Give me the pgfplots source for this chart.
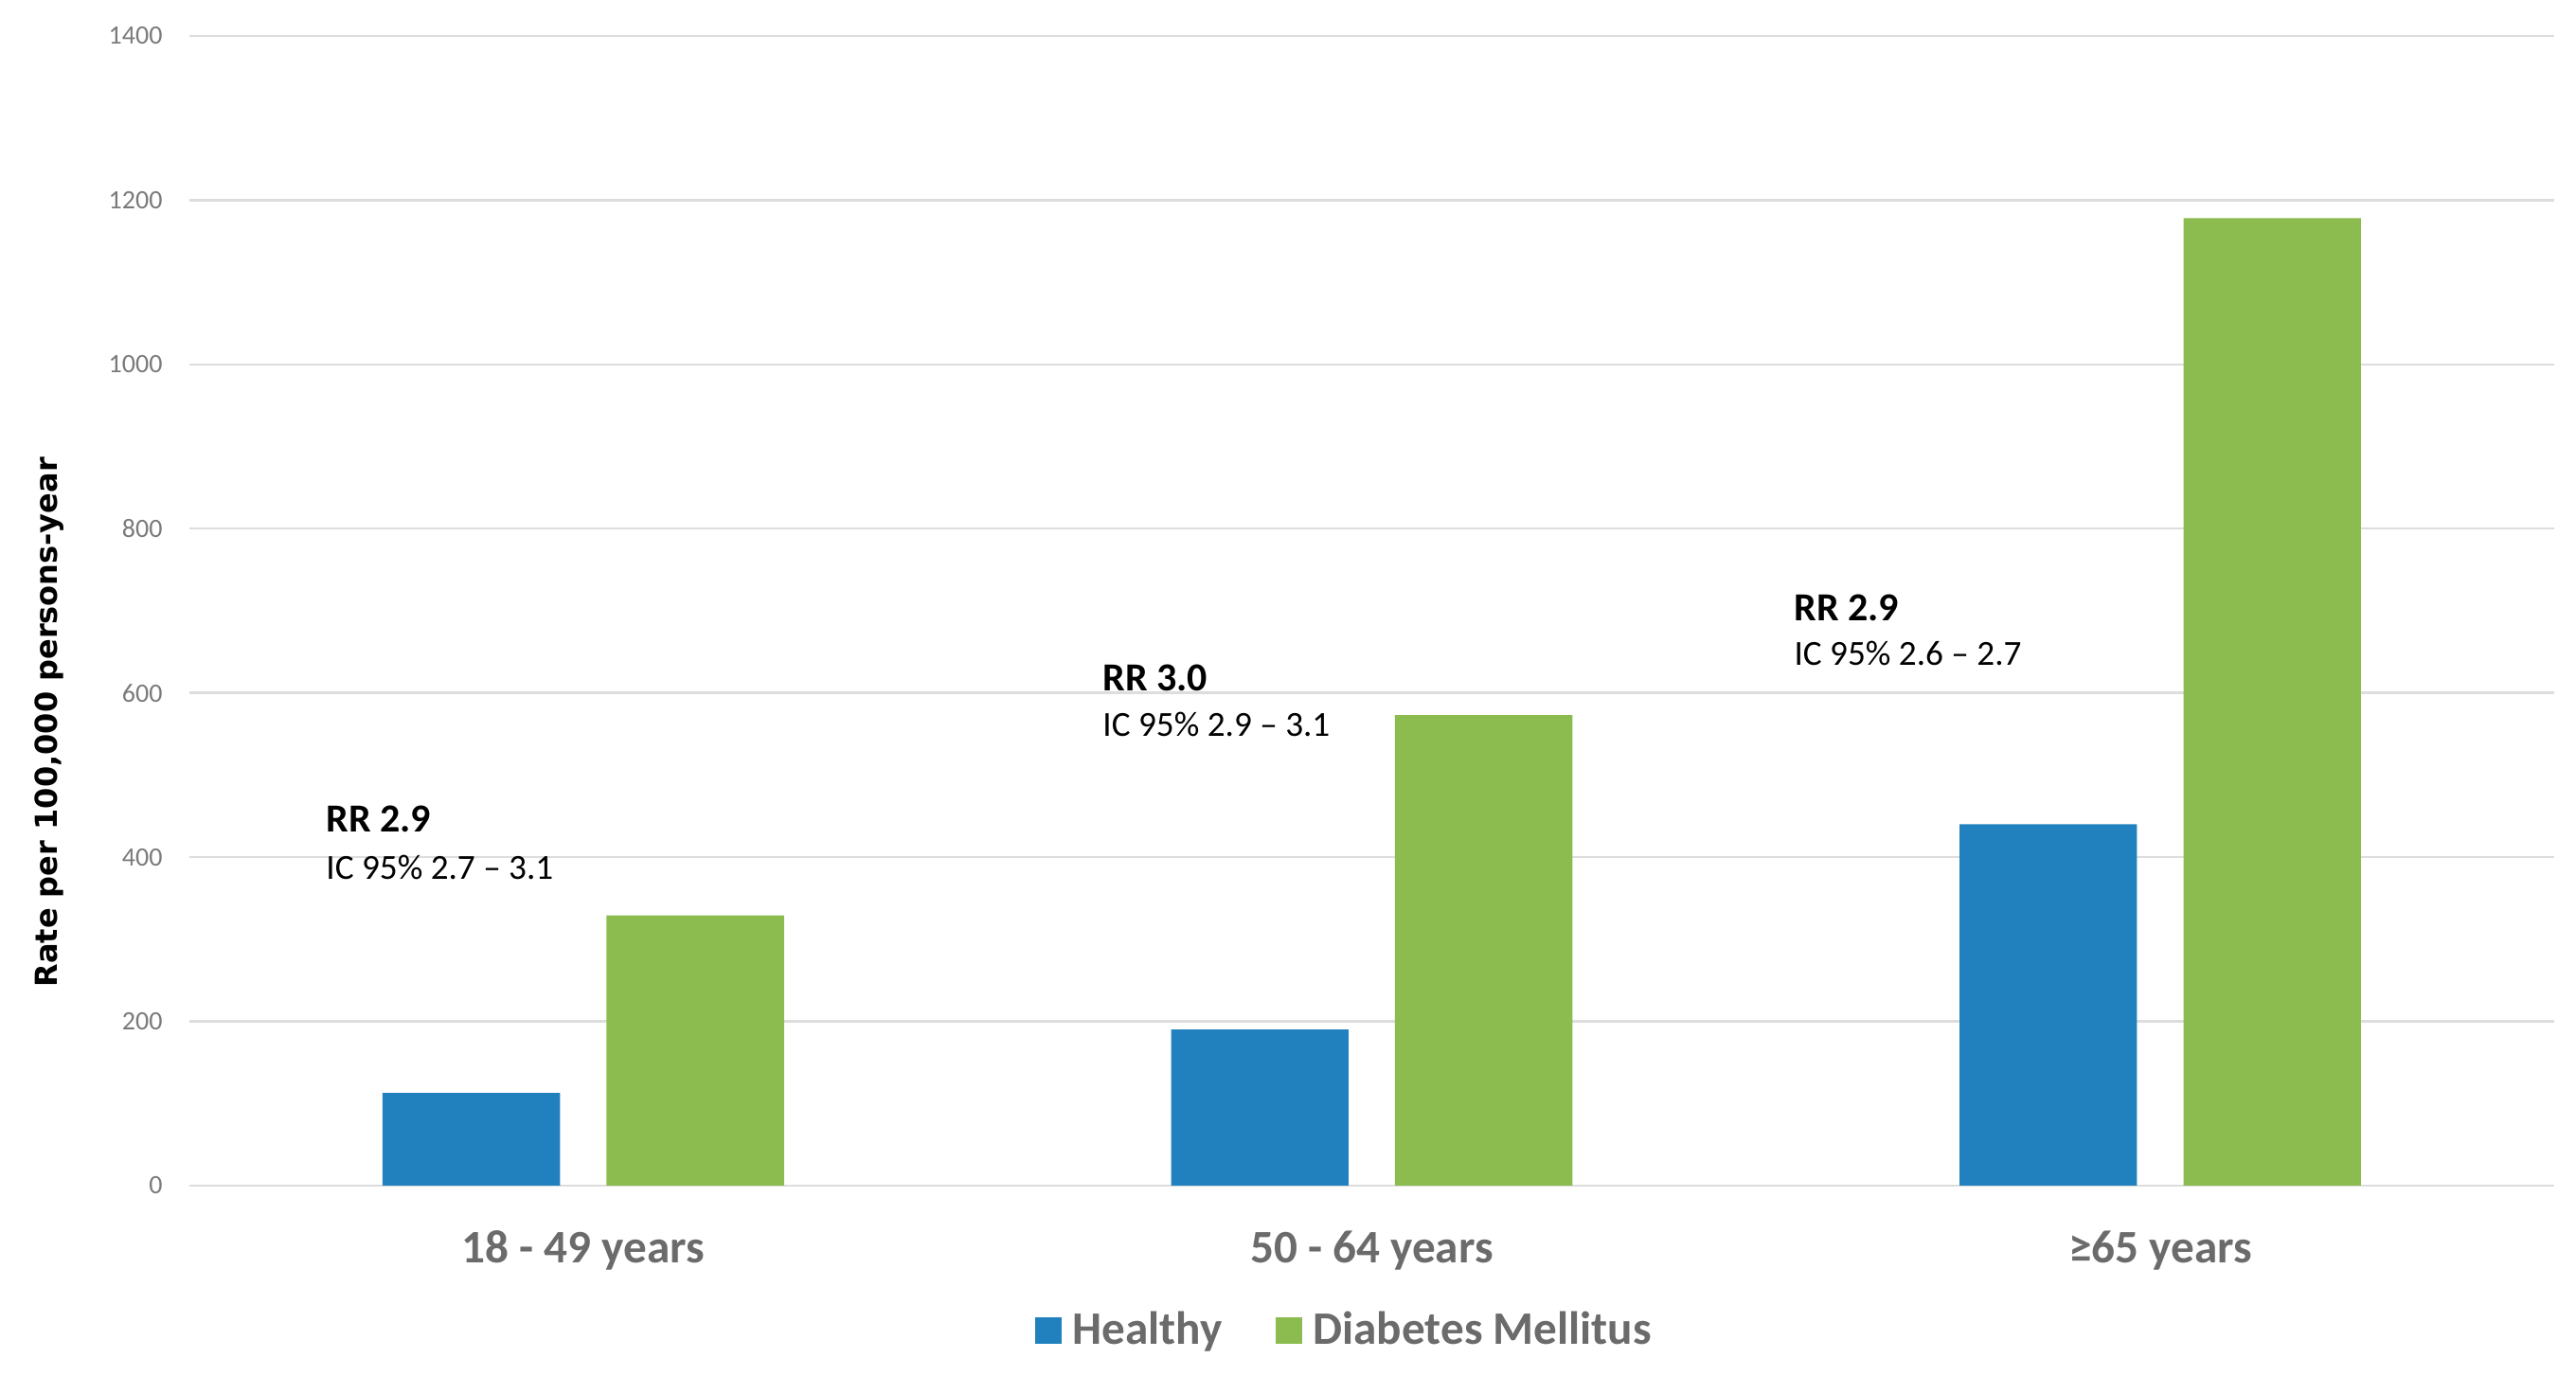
\documentclass[border=0pt]{standalone}
\usepackage{fontspec}
\setmainfont{Carlito}
\newfontfamily\ylabfont{DejaVu Sans}
\usepackage{pgfplots}
\pgfplotsset{compat=1.18}
\definecolor{cblue}{HTML}{2181BE}
\definecolor{cgreen}{HTML}{8CBC4F}
\definecolor{cgrid}{HTML}{DDDDDD}
\definecolor{ctick}{HTML}{7A7A7A}
\definecolor{ccat}{HTML}{6B6B6B}
\begin{document}
\begin{tikzpicture}
\path[use as bounding box] (-49.9pt,-50.25pt) rectangle (630.1pt,313pt);
\begin{axis}[
  scale only axis, width=624.4pt, height=303.5pt,
  xmin=-0.5, xmax=2.5, ymin=0, ymax=1400,
  ytick={0,200,...,1400},
  xtick={0,1,2},
  xticklabels={18 - 49 years, 50 - 64 years, ≥65 years},
  ymajorgrids, grid style={cgrid, line width=0.6pt},
  axis line style={draw=none},
  major tick length=0pt, tick style={draw=none},
  /pgf/number format/assume math mode=true,
  /pgf/number format/1000 sep={},
  yticklabel style={font=\fontsize{7}{8}\selectfont, text=ctick, xshift=-3.5pt},
  xticklabel style={font=\fontsize{12.3}{14}\selectfont\bfseries, text=ccat, anchor=base, yshift=-20.5pt},
  ylabel={Rate per 100,000 persons-year},
  ylabel style={font=\ylabfont\bfseries\fontsize{8}{9}\selectfont, at={(axis description cs:-0.0591,0.403)}, anchor=center},
  ybar, bar width=0.225,
  legend style={at={(0.4895,-0.1262)}, anchor=center, draw=none, legend columns=-1,
    font=\fontsize{12.3}{14}\selectfont\bfseries, text=ccat,
    /tikz/every even column/.append style={column sep=12pt},
    /tikz/every odd column/.append style={column sep=1pt}},
  legend image code/.code={\draw[#1,draw=none] (0pt,-3.5pt) rectangle (7pt,3.5pt);},
]
\addplot[fill=cblue, draw=none, bar shift=-0.142] coordinates {(0,113) (1,190) (2,440)};
\addplot[fill=cgreen, draw=none, bar shift=0.142] coordinates {(0,329) (1,573) (2,1178)};
\legend{Healthy, Diabetes Mellitus}
\begin{scope}[every node/.style={anchor=west, inner xsep=0pt}]
\node[font=\fontsize{10.5}{12}\selectfont\bfseries] at (axis cs:-0.327,446) {RR 2.9};
\node[font=\fontsize{9.3}{11}\selectfont] at (axis cs:-0.327,388) {IC 95\% 2.7 – 3.1};
\node[font=\fontsize{10.5}{12}\selectfont\bfseries] at (axis cs:0.658,618) {RR 3.0};
\node[font=\fontsize{9.3}{11}\selectfont] at (axis cs:0.658,562) {IC 95\% 2.9 – 3.1};
\node[font=\fontsize{10.5}{12}\selectfont\bfseries] at (axis cs:1.535,704) {RR 2.9};
\node[font=\fontsize{9.3}{11}\selectfont] at (axis cs:1.535,648) {IC 95\% 2.6 – 2.7};
\end{scope}
\end{axis}
\end{tikzpicture}
\end{document}
